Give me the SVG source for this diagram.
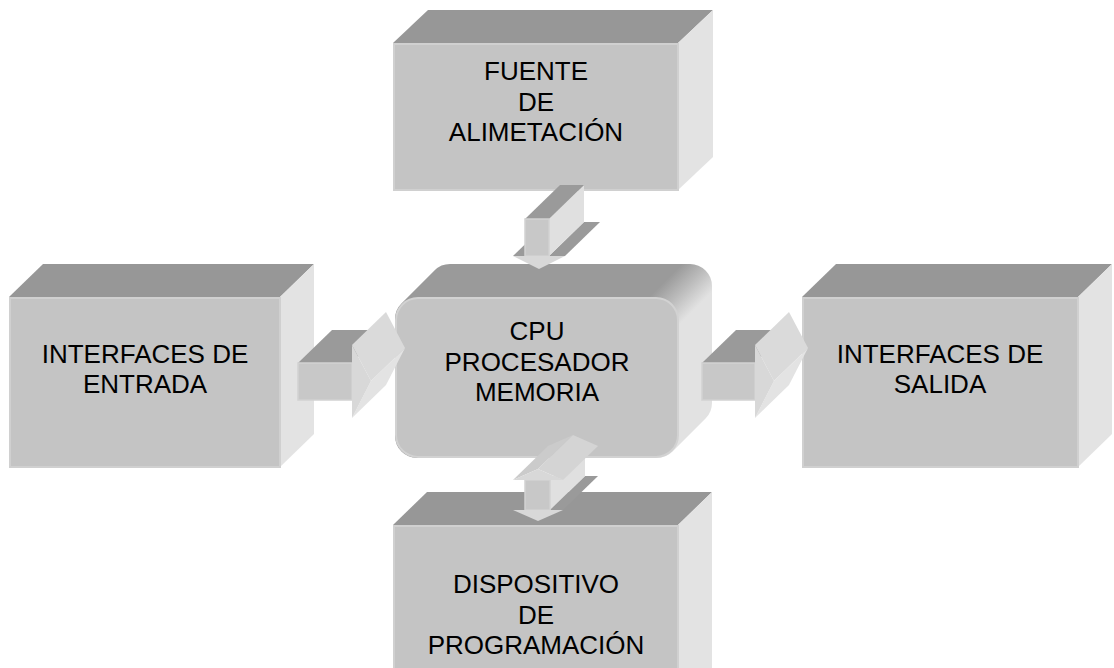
<svg xmlns="http://www.w3.org/2000/svg" width="1114" height="668" viewBox="0 0 1114 668">
  <defs>
    <style>
      .front{fill:#c4c4c4;stroke:#d0d0d0;stroke-width:2}
      .top{fill:#979797}
      .side{fill:#e3e3e3}
      .lbl{font-family:"Liberation Sans",Arial,sans-serif;font-size:26px;fill:#000;text-anchor:middle}
      .afront{fill:#c8c8c8;stroke:#d2d2d2;stroke-width:1.5}
      .ahead{fill:#d8d8d8}
      .atop{fill:#9a9a9a}
      .aside{fill:#e0e0e0}
      .aslant1{fill:#dadada}
      .aslant2{fill:#e3e3e3}
    </style>
    <linearGradient id="cpuGrad" gradientUnits="userSpaceOnUse" x1="473" y1="473" x2="502" y2="502">
      <stop offset="0" stop-color="#9a9a9a"/>
      <stop offset="0.5" stop-color="#bdbdbd"/>
      <stop offset="1" stop-color="#e2e2e2"/>
    </linearGradient>
  </defs>
  <rect width="1114" height="668" fill="#ffffff"/>

  <g id="fuente">
    <polygon class="top" points="393,43 678,43 713,10 428,10"/>
    <polygon class="side" points="678,43 713,10 713,157 678,190"/>
    <rect class="front" x="394" y="44" width="284" height="146"/>
    <text class="lbl" x="536" y="80">FUENTE</text>
    <text class="lbl" x="536" y="111">DE</text>
    <text class="lbl" x="536" y="141">ALIMETACIÓN</text>
  </g>

  <g id="entrada">
    <polygon class="top" points="9,297 280,297 314,264 43,264"/>
    <polygon class="side" points="280,297 314,264 314,434 280,467"/>
    <rect class="front" x="10" y="298" width="270" height="169"/>
    <text class="lbl" x="145" y="363">INTERFACES DE</text>
    <text class="lbl" x="145" y="393">ENTRADA</text>
  </g>

  <g id="salida">
    <polygon class="top" points="802,297 1078,297 1112,264 836,264"/>
    <polygon class="side" points="1078,297 1112,264 1112,434 1078,467"/>
    <rect class="front" x="803" y="298" width="275" height="169"/>
    <text class="lbl" x="940" y="363">INTERFACES DE</text>
    <text class="lbl" x="940" y="393">SALIDA</text>
  </g>

  <g id="dispositivo">
    <polygon class="top" points="393,525 678,525 712,492 427,492"/>
    <polygon class="side" points="678,525 712,492 712,690 678,690"/>
    <rect class="front" x="394" y="526" width="284" height="160"/>
    <text class="lbl" x="536" y="593">DISPOSITIVO</text>
    <text class="lbl" x="536" y="624">DE</text>
    <text class="lbl" x="536" y="654">PROGRAMACIÓN</text>
  </g>

  <g id="cpu">
    <path fill="url(#cpuGrad)" d="M401.44,303.44 L434.44,270.44 A22,22 0 0 1 450,264 L690,264 A22,22 0 0 1 712,286 L712,403 A22,22 0 0 1 705.56,418.56 L672.56,451.56 A22,22 0 0 1 657,458 L417,458 A22,22 0 0 1 395,436 L395,319 A22,22 0 0 1 401.44,303.44 Z"/>
    <rect x="396" y="298" width="282" height="159" rx="22" ry="22" fill="#c4c4c4" stroke="#d2d2d2" stroke-width="2"/>
    <text class="lbl" x="537" y="340">CPU</text>
    <text class="lbl" x="537" y="371">PROCESADOR</text>
    <text class="lbl" x="537" y="401">MEMORIA</text>
  </g>

  <g id="connectors">
    <!-- FUENTE -> CPU (down) -->
    <g id="arrow-fuente-cpu">
      <polygon class="atop" points="513,256 525,256 560,222 548,222"/>
      <polygon class="atop" points="549,256 565,256 600,222 584,222"/>
      <polygon class="aside" points="549,219 584,185 584,222 549,256"/>
      <polygon class="atop" points="525,219 549,219 584,185 560,185"/>
      <rect class="afront" x="525" y="219" width="24" height="37"/>
      <polygon class="ahead" points="513,256 565,256 539,269"/>
    </g>
    <!-- ENTRADA -> CPU (right) -->
    <g id="arrow-entrada-cpu">
      <polygon class="atop" points="298,363 352,363 386,330 332,330"/>
      <polygon class="aslant1" points="352,345 371,381 405,348 386,312"/>
      <polygon class="aslant2" points="371,381 352,418 386,385 405,348"/>
      <rect class="afront" x="298" y="363" width="54" height="37"/>
      <polygon class="ahead" points="352,345 371,381 352,418"/>
    </g>
    <!-- CPU -> SALIDA (right) -->
    <g id="arrow-cpu-salida">
      <polygon class="atop" points="702,363 755,363 789,330 736,330"/>
      <polygon class="aslant1" points="755,345 774,381 808,348 789,312"/>
      <polygon class="aslant2" points="774,381 755,418 789,385 808,348"/>
      <rect class="afront" x="702" y="363" width="53" height="37"/>
      <polygon class="ahead" points="755,345 774,381 755,418"/>
    </g>
    <!-- CPU <-> DISPOSITIVO (double) -->
    <g id="arrow-cpu-dispositivo">
      <polygon class="atop" points="550,510 563,510 598,476 585,476"/>
      <polygon class="aside" points="550,480 585,446 585,476 550,510"/>
      <polygon fill="#cbcbcb" points="513,480 538,469 573,435 548,446"/>
      <polygon fill="#d4d4d4" points="538,469 563,480 598,446 573,435"/>
      <rect class="afront" x="525" y="480" width="25" height="30"/>
      <polygon class="ahead" points="513,510 563,510 538,521"/>
      <polygon class="ahead" points="513,480 563,480 538,469"/>
    </g>
  </g>
</svg>
